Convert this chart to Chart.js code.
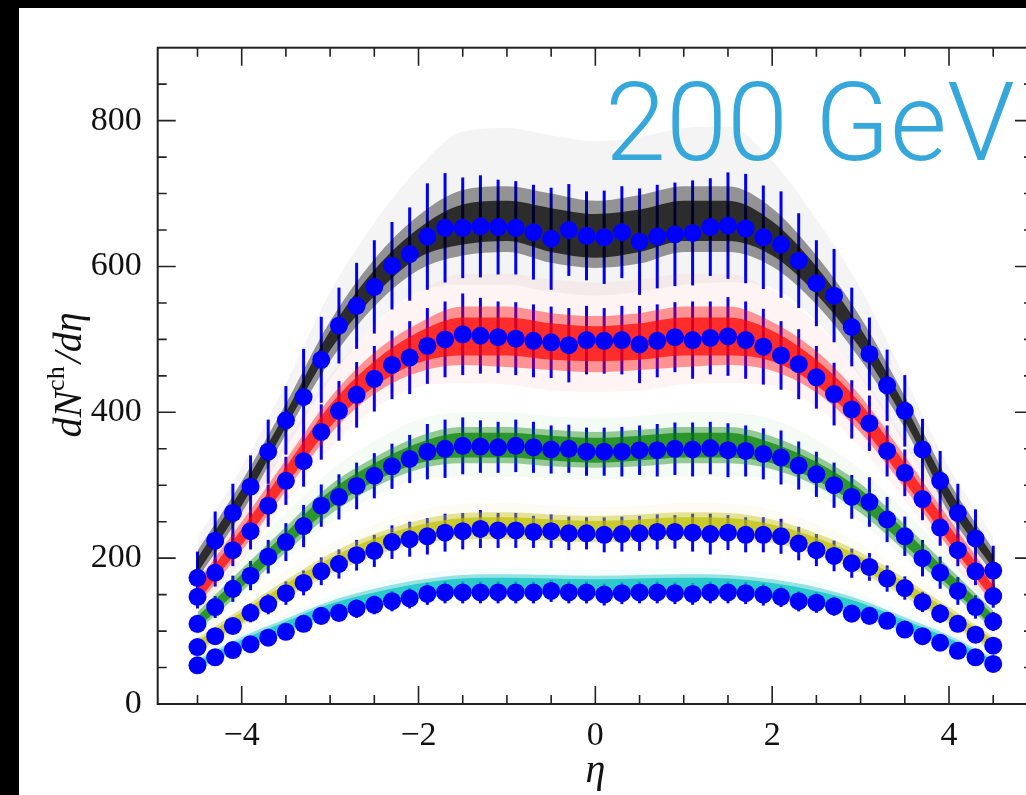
<!DOCTYPE html>
<html lang="en">
<head>
<meta charset="UTF-8">
<title>dNch/deta at 200 GeV</title>
<script src="https://cdn.jsdelivr.net/npm/chart.js"></script>
<style>
    body {
        margin: 0;
        background: #000;
        overflow: hidden;
        width: 1026px;
        height: 795px;
    }
    .plot {
        position: absolute;
        left: 19px;
        top: 8px;
        width: 1040px;
        height: 787px;
        background: #fff;
    }
</style>
</head>
<body>
<div class="plot"><canvas id="chart"></canvas></div>
<script>
// measured points, eta bins of 0.2
const eta = [-4.5,-4.3,-4.1,-3.9,-3.7,-3.5,-3.3,-3.1,-2.9,-2.7,-2.5,-2.3,-2.1,-1.9,-1.7,-1.5,-1.3,-1.1,-0.9,-0.7,-0.5,-0.3,-0.1,
             0.1,0.3,0.5,0.7,0.9,1.1,1.3,1.5,1.7,1.9,2.1,2.3,2.5,2.7,2.9,3.1,3.3,3.5,3.7,3.9,4.1,4.3,4.5];

const blackPts = [173,224,262,298,346,389,421,472,519,546,572,601,617,641,653,653,655,654,653,647,638,650,642,
                  640,647,634,641,644,646,654,656,652,640,630,608,577,560,517,480,437,402,349,306,262,227,183];
const blackErr = [36,40,40,43,44,47,66,59,52,59,64,60,64,73,75,69,70,65,64,65,70,63,61,
                  64,63,73,71,71,72,67,73,75,71,73,65,59,64,54,50,49,49,42,41,40,40,34];
const redPts = [147,180,211,237,272,306,333,373,402,424,446,465,475,491,500,507,505,503,501,498,496,492,499,
                498,499,493,498,503,499,502,504,499,490,478,466,448,425,404,385,347,317,281,242,211,182,148];
const redErr = [16,19,22,25,29,33,35,38,41,45,45,47,50,52,52,56,52,49,50,50,49,51,47,
                45,47,53,50,48,53,50,54,53,52,47,48,43,43,40,38,35,32,29,25,22,19,16];
const greenPts = [110,133,158,176,202,222,244,272,284,299,313,326,336,346,350,354,353,352,354,352,349,350,346,
                  346,346,348,348,350,349,351,348,347,343,338,327,315,300,284,277,253,230,200,180,155,133,113];
const greenErr = [12,15,18,20,23,26,29,29,31,32,31,31,33,38,40,39,36,35,36,35,33,33,33,
                  33,34,34,36,36,37,36,37,35,35,37,33,31,31,30,34,31,27,25,22,19,16,13];
const yellowPts = [78,93,107,125,137,152,166,182,192,204,210,222,226,230,235,237,240,238,238,236,237,234,234,
                   232,233,234,236,236,235,233,235,232,232,230,220,211,203,193,188,172,159,140,124,110,95,80];
const yellowErr = [8,10,11,13,14,16,17,19,20,21,22,23,24,25,26,25,26,24,24,22,23,23,22,
                   24,24,24,24,23,26,28,24,24,24,24,23,22,21,20,19,18,16,14,13,11,10,8];
const cyanPts = [53,64,74,82,91,99,110,121,125,131,136,141,145,151,153,153,153,153,153,153,155,153,153,
                 150,152,153,153,152,151,153,153,152,150,147,141,139,134,124,121,114,102,93,84,73,64,55];
const cyanErr = [5,6,7,8,9,10,11,12,12,13,13,14,14,15,15,15,15,15,15,15,15,15,15,
                 15,15,15,15,15,15,15,15,15,15,14,14,14,13,12,12,11,10,9,8,7,6,5];

// model bands, every 0.5 in eta
const bandEta = [-4.5,-4,-3.5,-3,-2.5,-2,-1.5,-1,-0.5,0,0.5,1,1.5,2,2.5,3,3.5,4,4.5];

const blackHaloHi  = [228,325,440,565,660,735,785,790,780,772,778,790,792,745,665,570,448,325,230];
const blackCoreHi  = [210,305,412,525,610,670,705,710,700,690,698,710,710,680,615,530,422,305,212];
const blackInnerHi = [200,295,400,512,595,652,685,690,680,672,678,690,690,662,600,515,410,295,203];
const blackInnerLo = [180,272,380,485,560,612,630,635,620,612,620,635,635,615,562,487,388,272,186];
const blackCoreLo  = [172,262,370,470,545,595,615,620,605,598,604,620,620,600,548,472,378,262,178];
const blackHaloLo  = [160,250,350,445,520,565,575,575,565,560,565,575,578,570,525,448,356,250,165];

const redHaloHi  = [185,270,360,450,520,565,590,590,582,578,582,590,590,567,522,452,364,274,187];
const redCoreHi  = [168,250,335,420,482,522,545,545,536,532,536,545,545,524,484,422,340,254,170];
const redInnerHi = [160,240,325,410,470,510,530,530,522,518,522,530,530,512,472,412,330,244,162];
const redInnerLo = [140,218,300,380,435,468,478,478,472,470,472,478,478,470,437,382,304,222,142];
const redCoreLo  = [135,210,292,370,425,455,465,462,458,455,458,462,465,457,427,372,296,214,137];
const redHaloLo  = [125,195,275,350,405,435,440,438,430,428,430,438,440,437,407,352,279,199,127];

const greenHaloHi  = [138,200,262,320,360,390,400,400,395,392,395,400,400,390,362,322,265,202,140];
const greenCoreHi  = [126,185,243,300,338,367,380,380,376,373,376,380,380,367,340,302,246,187,128];
const greenInnerHi = [120,178,235,292,330,358,372,372,368,365,368,372,372,358,332,294,238,180,122];
const greenInnerLo = [104,160,215,268,305,330,338,338,334,331,334,338,338,330,307,270,218,162,106];
const greenCoreLo  = [100,154,208,260,297,322,330,330,326,324,326,330,330,322,299,262,210,156,102];
const greenHaloLo  = [94,145,198,248,285,308,312,312,310,308,310,312,312,308,287,250,200,147,96];

const yellowHaloHi  = [100,142,182,218,246,265,275,276,272,270,272,276,275,266,247,220,184,144,102];
const yellowCoreHi  = [90,131,170,206,233,252,262,263,260,258,260,263,262,253,234,208,172,133,92];
const yellowInnerHi = [86,126,165,200,227,245,255,256,253,251,253,256,255,246,228,202,167,128,88];
const yellowInnerLo = [74,112,150,183,208,225,232,232,230,228,230,232,232,226,209,185,152,114,76];
const yellowCoreLo  = [70,108,145,178,203,220,226,226,224,222,224,226,226,221,204,180,147,110,72];
const yellowHaloLo  = [66,102,138,170,195,212,216,216,214,212,214,216,216,213,196,172,140,104,68];

const cyanHaloHi  = [66,98,124,148,166,178,185,186,185,184,185,186,185,179,168,150,126,100,68];
const cyanCoreHi  = [61,92,117,141,158,170,177,178,177,176,177,178,177,171,160,143,119,94,63];
const cyanInnerHi = [58,88,113,137,153,165,172,173,172,171,172,173,172,166,155,139,115,90,60];
const cyanInnerLo = [50,78,101,123,138,149,155,156,155,154,155,156,155,150,140,125,103,80,52];
const cyanCoreLo  = [48,75,97,119,134,144,150,151,150,149,150,151,150,145,135,120,99,77,50];
const cyanHaloLo  = [45,71,92,113,127,137,142,143,142,141,142,143,142,138,128,114,94,73,47];

// ticks
const xMajor = [-4,-2,0,2,4];
const xMinor = [-4.5,-3.5,-3,-2.5,-1.5,-1,-0.5,0.5,1,1.5,2.5,3,3.5,4.5];
const yMajor = [0,200,400,600,800];
const yMinor = [50,100,150,250,300,350,450,500,550,650,700,750,850];

const series = [
    {pts: blackPts, err: blackErr},
    {pts: redPts, err: redErr},
    {pts: greenPts, err: greenErr},
    {pts: yellowPts, err: yellowErr},
    {pts: cyanPts, err: cyanErr}
];

const bands = [
    {rgb: '0,0,0',     halo: [blackHaloHi, blackHaloLo],   core: [blackCoreHi, blackCoreLo],   inner: [blackInnerHi, blackInnerLo]},
    {rgb: '255,0,0',   halo: [redHaloHi, redHaloLo],       core: [redCoreHi, redCoreLo],       inner: [redInnerHi, redInnerLo]},
    {rgb: '0,128,0',   halo: [greenHaloHi, greenHaloLo],   core: [greenCoreHi, greenCoreLo],   inner: [greenInnerHi, greenInnerLo]},
    {rgb: '191,191,0', halo: [yellowHaloHi, yellowHaloLo], core: [yellowCoreHi, yellowCoreLo], inner: [yellowInnerHi, yellowInnerLo]},
    {rgb: '0,191,191', halo: [cyanHaloHi, cyanHaloLo],     core: [cyanCoreHi, cyanCoreLo],     inner: [cyanInnerHi, cyanInnerLo]}
];

const datasets = [];

// blue points on top
series.forEach(s => {
    datasets.push({
        data: eta.map((e, i) => ({x: e, y: s.pts[i]})),
        showLine: false,
        pointRadius: 9,
        pointHoverRadius: 9,
        pointBackgroundColor: '#0000ff',
        pointBorderWidth: 0,
        order: 0
    });
});

function bandPair(hi, lo, color, order) {
    datasets.push({
        data: bandEta.map((e, i) => ({x: e, y: hi[i]})),
        borderWidth: 0, borderColor: 'transparent', pointRadius: 0,
        cubicInterpolationMode: 'monotone',
        fill: '+1', backgroundColor: color, order: order
    });
    datasets.push({
        data: bandEta.map((e, i) => ({x: e, y: lo[i]})),
        borderWidth: 0, borderColor: 'transparent', pointRadius: 0,
        cubicInterpolationMode: 'monotone',
        fill: false, order: order
    });
}

bands.forEach(b => {
    bandPair(b.inner[0], b.inner[1], 'rgba(' + b.rgb + ',0.7)', 1);
    bandPair(b.core[0], b.core[1], 'rgba(' + b.rgb + ',0.4)', 2);
    bandPair(b.halo[0], b.halo[1], 'rgba(' + b.rgb + ',0.045)', 3);
});

const errorBars = {
    id: 'errorBars',
    beforeDatasetsDraw(chart) {
        const {ctx, scales: {x, y}} = chart;
        ctx.save();
        ctx.strokeStyle = '#0000ff';
        ctx.lineWidth = 3;
        series.forEach(s => {
            eta.forEach((e, i) => {
                const px = x.getPixelForValue(e);
                ctx.beginPath();
                ctx.moveTo(px, y.getPixelForValue(s.pts[i] - s.err[i]));
                ctx.lineTo(px, y.getPixelForValue(s.pts[i] + s.err[i]));
                ctx.stroke();
            });
        });
        ctx.restore();
    }
};

const frame = {
    id: 'frame',
    afterDraw(chart) {
        const {ctx, chartArea: a, scales: {x, y}} = chart;
        ctx.save();
        ctx.strokeStyle = '#222';
        ctx.lineWidth = 2;
        ctx.strokeRect(a.left, a.top, a.right - a.left, a.bottom - a.top);

        ctx.lineWidth = 1.6;
        const xTick = (v, len) => {
            const px = x.getPixelForValue(v);
            ctx.beginPath();
            ctx.moveTo(px, a.bottom); ctx.lineTo(px, a.bottom - len);
            ctx.moveTo(px, a.top); ctx.lineTo(px, a.top + len);
            ctx.stroke();
        };
        const yTick = (v, len) => {
            const py = y.getPixelForValue(v);
            ctx.beginPath();
            ctx.moveTo(a.left, py); ctx.lineTo(a.left + len, py);
            ctx.moveTo(a.right, py); ctx.lineTo(a.right - len, py);
            ctx.stroke();
        };
        xMajor.forEach(v => xTick(v, 18));
        xMinor.forEach(v => xTick(v, 9));
        yMajor.forEach(v => yTick(v, 18));
        yMinor.forEach(v => yTick(v, 9));

        // axis titles
        ctx.fillStyle = '#111';
        ctx.textAlign = 'center';
        ctx.textBaseline = 'alphabetic';
        ctx.font = 'italic 40px "Liberation Serif"';
        ctx.fillText('η', x.getPixelForValue(0), 774);

        ctx.translate(62, 367);
        ctx.rotate(-Math.PI / 2);
        const big = 'italic 40px "Liberation Serif"';
        const sup = '26px "Liberation Serif"';
        ctx.font = big;
        const w1 = ctx.measureText('dN').width;
        const w3 = ctx.measureText('/dη').width;
        ctx.font = sup;
        const w2 = ctx.measureText('ch').width + 3;
        let pos = -(w1 + w2 + w3) / 2;
        ctx.textAlign = 'left';
        ctx.font = big;
        ctx.fillText('dN', pos, 0);
        pos += w1;
        ctx.font = sup;
        ctx.fillText('ch', pos, -17);
        pos += w2;
        ctx.font = big;
        ctx.fillText('/dη', pos, 0);
        ctx.restore();

        // energy label
        ctx.save();
        ctx.fillStyle = '#35a7da';
        ctx.font = '300 110px Roboto';
        ctx.textAlign = 'left';
        ctx.textBaseline = 'alphabetic';
        ctx.fillText('200 GeV', 586, 152);
        ctx.restore();
    }
};

new Chart(document.getElementById('chart'), {
    type: 'line',
    data: {datasets: datasets},
    options: {
        responsive: true,
        maintainAspectRatio: false,
        animation: false,
        layout: {padding: {left: 0, right: 26, top: 39.7, bottom: 0}},
        plugins: {legend: {display: false}, tooltip: {enabled: false}},
        scales: {
            x: {
                type: 'linear',
                min: -4.95,
                max: 4.95,
                grid: {display: false, drawTicks: false},
                border: {display: false},
                afterBuildTicks: s => { s.ticks = xMajor.map(v => ({value: v})); },
                afterFit: s => { s.height = 91; },
                ticks: {
                    padding: 12,
                    color: '#111',
                    font: {family: '"Liberation Serif"', size: 34},
                    callback: v => String(v).replace('-', '\u2212')
                }
            },
            y: {
                min: 0,
                max: 900,
                grid: {display: false, drawTicks: false},
                border: {display: false},
                afterBuildTicks: s => { s.ticks = yMajor.map(v => ({value: v})); },
                afterFit: s => { s.width = 138.7; },
                ticks: {
                    padding: 16,
                    color: '#111',
                    font: {family: '"Liberation Serif"', size: 34}
                }
            }
        }
    },
    plugins: [errorBars, frame]
});
</script>
</body>
</html>
